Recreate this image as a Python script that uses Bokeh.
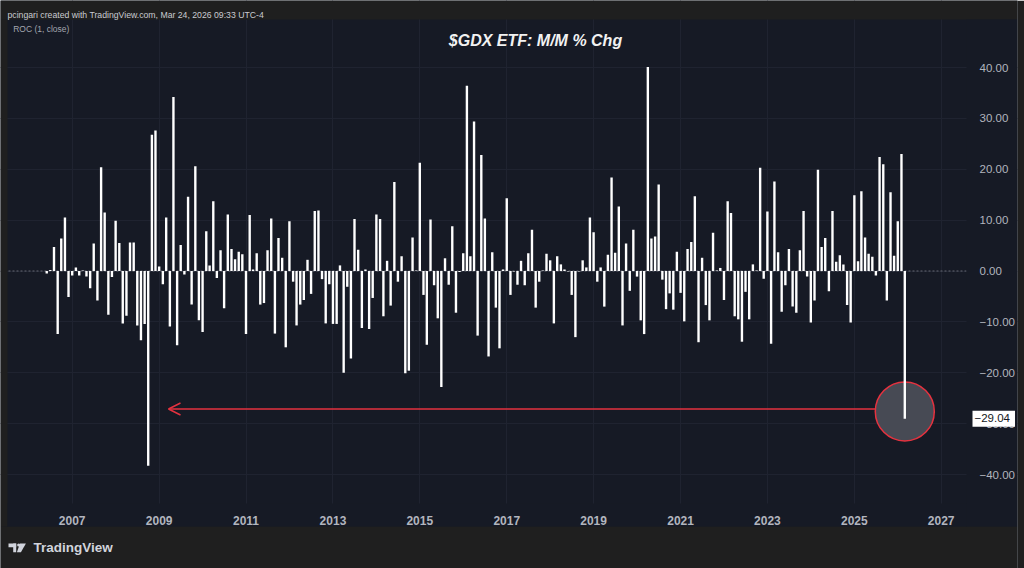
import pandas as pd
from bokeh.plotting import figure
from bokeh.models import (Range1d, FixedTicker, DatetimeTickFormatter, CustomJSTickFormatter,
                          Span, Label, Arrow, OpenHead, ColumnDataSource)
from bokeh.embed import file_html
from bokeh.resources import INLINE

# ---------------- data (monthly % change) ----------------
FIRST_MONTH = "2006-06-01"
roc_2006 = [-0.5, 0.2, 4.7, -12.4, 6.4, 10.5, -5.1]
roc_2007 = [-0.9, 0.7, -0.9, 0.1, -1.1, -3.4, 5.4, -5.8, 20.4, 11.5, -8.6, -1.2]
roc_2008 = [9.9, 5.5, -10.3, -8.8, 5.6, 5.6, -10.7, -13.6, -10.4, -38.3, 26.8, 27.6]
roc_2009 = [0.9, -2.6, 10.5, -10.9, 34.2, -14.6, 5.1, -0.7, 14.6, -6.6, 20.6, -9.7]
roc_2010 = [-12.0, 7.8, 1.1, 13.7, -1.4, 4.1, -7.3, 11.1, 4.3, 2.3, 3.8, 3.3]
roc_2011 = [-12.4, 11.0, 0.3, 3.5, -6.6, -6.3, 4.1, 10.3, -12.3, 6.5, 2.6, -15.0]
roc_2012 = [9.8, -2.1, -10.7, -6.6, -5.7, 2.2, -4.5, 11.8, 11.9, -1.6, -10.3, -2.6]
roc_2013 = [-10.4, -10.4, 1.1, -20.0, -3.1, -17.2, 10.2, 4.2, -11.2, 0.3, -11.4, -5.3]
roc_2014 = [11.1, 10.2, -8.9, 2.0, -6.8, 17.5, -2.1, 2.9, -20.1, -19.6, 6.6, 0.1]
roc_2015 = [21.3, -4.7, -14.5, 10.1, -2.8, -9.3, -22.8, 2.5, -2.7, 8.8, -8.2, -0.2]
roc_2016 = [3.5, 36.4, 2.9, 29.4, -12.7, 22.8, 10.3, -16.8, 3.7, -7.2, -15.2, 0.3]
roc_2017 = [14.3, -4.7, -0.1, -2.7, 2.0, -2.8, 3.5, 8.1, -7.2, -2.1, 0.1, 3.4]
roc_2018 = [2.1, -10.3, 2.9, 1.3, 0.3, -0.1, -4.7, -13.0, -0.1, 2.1, 0.7, 10.5]
roc_2019 = [7.6, -2.1, 0.7, -7.0, 3.2, 18.4, 3.6, 12.7, -10.7, 5.4, -3.9, 8.1]
roc_2020 = [-1.1, -9.7, -12.4, 40.1, 6.4, 6.8, 17.0, -1.7, -7.5, -4.4, -7.6, 3.8]
roc_2021 = [-4.3, -9.9, 4.3, 5.7, 14.7, -14.0, 2.6, -6.7, -9.7, 7.5, 0.1, 0.6]
roc_2022 = [-5.7, 13.7, 11.4, -8.9, -9.5, -13.9, -4.1, -9.5, 1.3, 0.1, 20.3, -1.5]
roc_2023 = [11.7, -14.3, 17.6, 3.7, -8.0, -2.8, 4.3, -7.0, -8.2, 4.1, 11.8, -1.1]
roc_2024 = [-10.1, -5.8, 19.9, 4.7, 6.5, -4.0, 11.8, 1.8, 3.1, 1.3, -6.7, -10.1]
roc_2025 = [14.9, 1.9, 15.7, 6.6, 3.4, 2.8, -0.9, 22.4, 21.0, -5.8, 15.5, 3.0]
roc_2026 = [9.8, 23.0, -29.04]

y_ticks = [-40, -30, -20, -10, 0, 10, 20, 30, 40]
x_tick_years = [2007, 2009, 2011, 2013, 2015, 2017, 2019, 2021, 2023, 2025, 2027]

header_text = "pcingari created with TradingView.com, Mar 24, 2026 09:33 UTC-4"
indicator_text = "ROC (1, close)"
title_text = "$GDX ETF: M/M % Chg"
brand_text = "TradingView"

roc = (roc_2006 + roc_2007 + roc_2008 + roc_2009 + roc_2010 + roc_2011 + roc_2012 +
       roc_2013 + roc_2014 + roc_2015 + roc_2016 + roc_2017 + roc_2018 + roc_2019 +
       roc_2020 + roc_2021 + roc_2022 + roc_2023 + roc_2024 + roc_2025 + roc_2026)
dates = pd.date_range(FIRST_MONTH, periods=len(roc), freq="MS")

# ---------------- style / layout ----------------
BG_OUTER = "#1f1f1f"
BG_PANEL = "#161a25"
GRID = "#1f2330"
AXIS_TXT = "#b2b5be"
RED = "#e5323f"
LOGO = "#d1d4dc"
FONT = "Liberation Sans"

W, H = 1024, 568
FRAME_R = 1017                      # frame spans page x 0..1017, y 0..568
PX_2007, PX_2027 = 71.7, 940.7      # page x of Jan-2007 / Jan-2027
PX_ZERO, PX_PER_UNIT = 270.5, 5.0875


def ms(ts):
    return pd.Timestamp(ts).value / 1e6


MPP = (ms("2027-01-01") - ms("2007-01-01")) / (PX_2027 - PX_2007)
X_START = ms("2007-01-01") - PX_2007 * MPP
X_END = ms("2007-01-01") + (FRAME_R - PX_2007) * MPP
Y_TOP = PX_ZERO / PX_PER_UNIT
Y_BOT = -(H - PX_ZERO) / PX_PER_UNIT

p = figure(width=W, height=H, x_axis_type="datetime", y_axis_location="right",
           x_range=Range1d(X_START, X_END), y_range=Range1d(Y_BOT, Y_TOP),
           output_backend="svg", toolbar_location=None,
           min_border_left=0, min_border_right=W - FRAME_R, min_border_top=0, min_border_bottom=0,
           background_fill_color=BG_PANEL, border_fill_color=BG_OUTER,
           outline_line_color=None)
# pixel coordinate system for the page decoration
p.extra_x_ranges = {"px": Range1d(0, FRAME_R)}
p.extra_y_ranges = {"px": Range1d(H, 0)}
PX = dict(x_range_name="px", y_range_name="px")

# axes: labels drawn inside the panel, like TradingView's scales
p.xaxis.ticker = FixedTicker(ticks=[ms(f"{y}-01-01") for y in x_tick_years])
p.xaxis.formatter = DatetimeTickFormatter(years="%Y", months="%Y", days="%Y",
                                          hours="%Y", minutes="%Y", seconds="%Y")
p.yaxis.ticker = FixedTicker(ticks=y_ticks)
p.yaxis.formatter = CustomJSTickFormatter(
    code="return (tick < 0 ? '\u2212' : '') + Math.abs(tick).toFixed(2);")
for ax in (p.xaxis, p.yaxis):
    ax.axis_line_color = None
    ax.major_tick_line_color = None
    ax.minor_tick_line_color = None
    ax.major_label_text_color = AXIS_TXT
    ax.major_label_text_font = FONT
p.xaxis.major_label_text_font_size = "12px"
p.xaxis.major_label_text_font_style = "bold"
p.xaxis.major_label_standoff = 509 - H
p.yaxis.major_label_text_font_size = "11.5px"
p.yaxis.major_label_standoff = 973 - FRAME_R

p.xgrid.grid_line_color = GRID
p.ygrid.grid_line_color = GRID

p.add_layout(Span(location=0, dimension="width", line_color="#787b86", line_alpha=0.8,
                  line_dash="2 2", line_width=1, level="underlay"))

# page regions: outer frame strips and the price/time scale areas
p.quad(left=[0, 0, 0, 966, 7], right=[FRAME_R, FRAME_R, 7, FRAME_R, 966],
       top=[0, 526, 19, 19, 503], bottom=[19, H, 526, 526, 526],
       fill_color=[BG_OUTER, BG_OUTER, BG_OUTER, BG_PANEL, BG_PANEL], line_color=None, **PX)

# highlight circle around the latest month
p.scatter(x=[dates[-1]], y=[-27.6], size=59, marker="circle",
          fill_color="#474a54", line_color=RED, line_width=1.5)

src = ColumnDataSource(dict(date=dates, roc=roc))
p.vbar(x="date", top="roc", bottom=0, width=20 * 86400000, source=src,
       fill_color="#ffffff", line_color=None)

p.add_layout(Arrow(end=OpenHead(size=12, line_color=RED, line_width=1.5),
                   x_start=875, y_start=408.5, x_end=168, y_end=408.5,
                   line_color=RED, line_width=1.5, **PX))

p.add_layout(Label(x=535, y=40, text=title_text, text_font=FONT,
                   text_font_size="16px", text_font_style="bold italic", text_color="#f2f2f2",
                   text_align="center", text_baseline="middle", **PX))
p.add_layout(Label(x=12.7, y=28.7, text=indicator_text, text_font=FONT,
                   text_font_size="8.5px", text_color="#a3a6af",
                   text_align="left", text_baseline="middle", **PX))
p.add_layout(Label(x=7, y=14, text=header_text, text_font=FONT, text_font_size="8.7px",
                   text_color="#c9cbd1", text_align="left", text_baseline="alphabetic", **PX))

last_txt = f"{roc[-1]:.2f}".replace("-", "\u2212")
p.add_layout(Label(x=972, y=roc[-1], x_range_name="px", text=last_txt, text_font=FONT,
                   text_font_size="11.5px", text_color="#131722",
                   background_fill_color="#ffffff", padding=(2, 5, 3, 5),
                   text_align="left", text_baseline="middle"))

# brand mark
p.quad(left=[8, 12.7], right=[15.7, 15.7], top=[543, 543], bottom=[546.7, 551.7],
       fill_color=LOGO, line_color=None, **PX)
p.scatter(x=[18.2], y=[544.5], size=3.2, marker="circle", fill_color=LOGO, line_color=None, **PX)
p.patch(x=[19.4, 25.4, 20.4, 16.4], y=[543, 543, 551.7, 551.7], fill_color=LOGO,
        line_color=None, **PX)
p.add_layout(Label(x=33, y=547.4, text=brand_text, text_font=FONT, text_font_size="13.5px",
                   text_font_style="bold", text_color=LOGO,
                   text_align="left", text_baseline="middle", **PX))

html = file_html(p, INLINE, title="GDX ROC")
html = html.replace("<body>", '<body style="background-color:%s;">' % BG_OUTER, 1)
open("out.html", "w").write(html)
